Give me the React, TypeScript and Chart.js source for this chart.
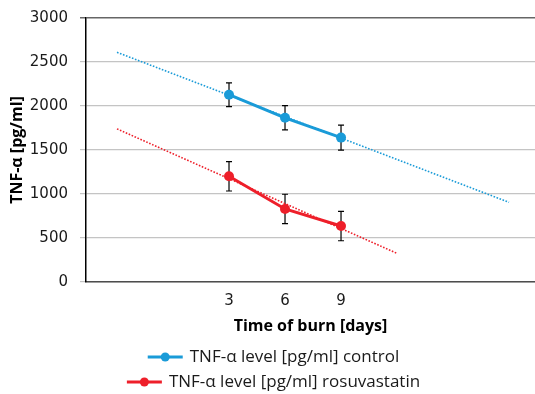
import React, { useEffect, useRef } from "react";
import { Chart, registerables } from "chart.js";

Chart.register(...registerables);

// ---- data ----
const days = [3, 6, 9];
const xTickLabels = ["3", "6", "9"];
const controlValues = [2128, 1866, 1641];
const controlErrors = [134, 138, 142];
const rosuValues = [1201, 830, 636];
const rosuErrors = [167, 167, 167];
const controlTrendDays = [-3, 18];
const controlTrendValues = [2610, 905];
const rosuTrendDays = [-3, 12];
const rosuTrendValues = [1740, 325];
const seriesLabels = [
  "TNF-\u03b1 level [pg/ml] control",
  "TNF-\u03b1 level [pg/ml] rosuvastatin",
];
const yMin = 0;
const yMax = 3000;
const yStep = 500;
const xMin = -4.66;
const xMax = 19.39;

const BLUE = "#1a9bd8";
const RED = "#ee1f2a";
const TEXT_FONT = "'Open Sans', sans-serif";
const TICK_FONT = "'DejaVu Sans', sans-serif";

const pts = (xs: number[], ys: number[]) => xs.map((x, i) => ({ x, y: ys[i] }));

const errorBarPlugin = {
  id: "errorBars",
  beforeDatasetsDraw(chart: any) {
    const { ctx, scales } = chart;
    const xs = scales.x;
    const ys = scales.y;
    const groups = [
      { v: controlValues, e: controlErrors },
      { v: rosuValues, e: rosuErrors },
    ];
    ctx.save();
    ctx.strokeStyle = "#000";
    ctx.lineWidth = 1.2;
    groups.forEach((g) => {
      days.forEach((d, i) => {
        const px = xs.getPixelForValue(d);
        const top = ys.getPixelForValue(g.v[i] + g.e[i]);
        const bot = ys.getPixelForValue(g.v[i] - g.e[i]);
        ctx.beginPath();
        ctx.moveTo(px, top);
        ctx.lineTo(px, bot);
        ctx.moveTo(px - 3, top);
        ctx.lineTo(px + 3, top);
        ctx.moveTo(px - 3, bot);
        ctx.lineTo(px + 3, bot);
        ctx.stroke();
      });
    });
    ctx.restore();
  },
};

const legendPlugin = {
  id: "twoRowLegend",
  afterDraw(chart: any) {
    const { ctx } = chart;
    const rows = [
      { label: seriesLabels[0], color: BLUE, y: 357 },
      { label: seriesLabels[1], color: RED, y: 382 },
    ];
    const centerX = 273.5;
    ctx.save();
    ctx.font = `17px ${TEXT_FONT}`;
    ctx.textBaseline = "middle";
    ctx.textAlign = "left";
    rows.forEach((r) => {
      const tw = ctx.measureText(r.label).width;
      const total = 35 + 7 + tw;
      const x0 = centerX - total / 2;
      ctx.strokeStyle = r.color;
      ctx.lineWidth = 3;
      ctx.beginPath();
      ctx.moveTo(x0, r.y);
      ctx.lineTo(x0 + 35, r.y);
      ctx.stroke();
      ctx.fillStyle = r.color;
      ctx.beginPath();
      ctx.arc(x0 + 17.5, r.y, 4.5, 0, Math.PI * 2);
      ctx.fill();
      ctx.fillStyle = "#1a1a1a";
      ctx.fillText(r.label, x0 + 42, r.y + 0.5);
    });
    ctx.restore();
  },
};

export default function App() {
  const canvasRef = useRef<HTMLCanvasElement | null>(null);

  useEffect(() => {
    document.body.style.margin = "0";
    const canvas = canvasRef.current;
    if (!canvas) return;
    const chart = new Chart(canvas, {
      type: "line",
      data: {
        datasets: [
          {
            label: seriesLabels[0],
            data: pts(days, controlValues),
            borderColor: BLUE,
            backgroundColor: BLUE,
            borderWidth: 3,
            pointRadius: 5,
            pointHoverRadius: 5,
            pointBorderWidth: 0,
            order: 1,
          },
          {
            label: seriesLabels[1],
            data: pts(days, rosuValues),
            borderColor: RED,
            backgroundColor: RED,
            borderWidth: 3,
            pointRadius: 5,
            pointHoverRadius: 5,
            pointBorderWidth: 0,
            order: 2,
          },
          {
            label: "trend control",
            data: pts(controlTrendDays, controlTrendValues),
            borderColor: BLUE,
            borderWidth: 1.6,
            borderDash: [1.6, 1.6],
            pointRadius: 0,
            order: 3,
          },
          {
            label: "trend rosuvastatin",
            data: pts(rosuTrendDays, rosuTrendValues),
            borderColor: RED,
            borderWidth: 1.6,
            borderDash: [1.6, 1.6],
            pointRadius: 0,
            order: 0,
          },
        ],
      },
      options: {
        animation: false,
        responsive: true,
        maintainAspectRatio: false,
        layout: { padding: { top: 18, right: 0, bottom: 58, left: 0 } },
        plugins: {
          legend: { display: false },
          tooltip: { enabled: false },
        },
        scales: {
          x: {
            type: "linear",
            min: xMin,
            max: xMax,
            afterBuildTicks: (scale: any) => {
              scale.ticks = days.map((d) => ({ value: d }));
            },
            afterFit: (scale: any) => {
              scale.height = 54;
              scale.paddingLeft = 0;
              scale.paddingRight = 0;
            },
            ticks: {
              autoSkip: false,
              maxRotation: 0,
              padding: 10,
              color: "#1a1a1a",
              font: { family: TICK_FONT, size: 15 },
              callback: (v: any) => {
                const i = days.indexOf(Number(v));
                return i >= 0 ? xTickLabels[i] : "";
              },
            },
            grid: { display: false, drawTicks: false },
            border: { display: true, color: "#4d4d4d", width: 1.5 },
            title: {
              display: true,
              text: "Time of burn [days]",
              color: "#000",
              font: { family: TEXT_FONT, size: 16, weight: "bold" },
              padding: { top: 0, bottom: 0 },
            },
          },
          y: {
            min: yMin,
            max: yMax,
            afterFit: (scale: any) => {
              scale.width = 86;
              scale.paddingTop = 0;
              scale.paddingBottom = 0;
            },
            ticks: {
              stepSize: yStep,
              padding: 12,
              color: "#1a1a1a",
              font: { family: TICK_FONT, size: 15 },
              callback: (v: any) => String(v),
            },
            grid: {
              color: (c: any) => (c.tick && c.tick.value === yMax ? "#666666" : "#c4c4c4"),
              tickColor: (c: any) => (c.tick && c.tick.value === yMax ? "#666666" : "#c4c4c4"),
              lineWidth: (c: any) => (c.tick && c.tick.value === yMax ? 1.5 : 1.2),
              tickLength: 6,
            },
            border: { display: true, color: "#000", width: 1.5 },
            title: {
              display: true,
              text: "TNF-\u03b1 [pg/ml]",
              color: "#000",
              font: { family: TEXT_FONT, size: 16, weight: "bold" },
              padding: { top: 8, bottom: 0 },
            },
          },
        },
      },
      plugins: [errorBarPlugin, legendPlugin],
    });
    // let the plot area reach the canvas edge (markers may overflow it)
    chart.data.datasets.forEach((_d: any, i: number) => {
      const ctrl: any = chart.getDatasetMeta(i).controller;
      if (ctrl) ctrl.getMaxOverflow = () => 0;
    });
    chart.update();
    return () => chart.destroy();
  }, []);

  return (
    <div style={{ position: "relative", width: 535, height: 394 }}>
      <canvas ref={canvasRef} />
    </div>
  );
}
